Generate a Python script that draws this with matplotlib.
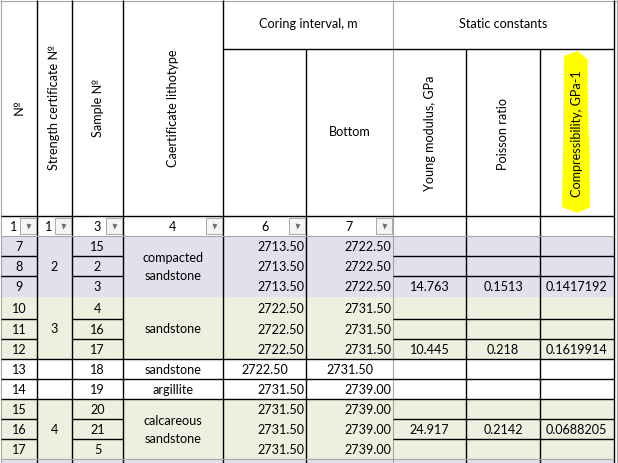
import matplotlib.pyplot as plt
from matplotlib.patches import Rectangle, Polygon

plt.rcParams['font.family'] = ['Lato', 'DejaVu Sans']

# table content
row_no = [7, 8, 9, 10, 11, 12, 13, 14, 15, 16, 17]
samples = [15, 2, 3, 4, 16, 17, 18, 19, 20, 21, 5]
cert_groups = [("2", 3), ("3", 3), ("", 1), ("", 1), ("4", 3)]
litho_groups = [("compacted\nsandstone", 3), ("sandstone", 3), ("sandstone", 1),
                ("argillite", 1), ("calcareous\nsandstone", 3)]
top = [2713.50, 2713.50, 2713.50, 2722.50, 2722.50, 2722.50, 2722.50,
       2731.50, 2731.50, 2731.50, 2731.50]
bottom = [2722.50, 2722.50, 2722.50, 2731.50, 2731.50, 2731.50, 2731.50,
          2739.00, 2739.00, 2739.00, 2739.00]
young = [None, None, 14.763, None, None, 10.445, None, None, None, 24.917, None]
poisson = [None, None, 0.1513, None, None, 0.218, None, None, None, 0.2142, None]
compress = [None, None, 0.1417192, None, None, 0.1619914, None, None, None, 0.0688205, None]

headers = ["№", "Strength certificate №", "Sample №", "Caertificate lithotype"]
sub_headers = ["", "Bottom", "Young modulus, GPa", "Poisson ratio", "Compressibility, GPa-1"]
group_headers = ["Coring interval, m", "Static constants"]
filter_labels = ["1", "1", "3", "4", "6", "7"]

# layout (pixels)
col_edges = [1, 37, 72, 123, 223, 306, 393, 466, 540, 613.5]
y_sub, y_filter, y_data = 49, 216, 236
row_heights = [20, 20, 20.7, 22.6, 20, 20, 20, 20, 20, 20, 20]
band_colors = ['#E4DFEC'] * 3 + ['#EBF1DE'] * 3 + ['white'] * 2 + ['#EBF1DE'] * 3
next_band = '#E4DFEC'

BLACK = 'black'
GRAY = '#A6A6A6'
FS = 9.1

fig = plt.figure(figsize=(6.18, 4.63), dpi=100)
ax = fig.add_axes([0, 0, 1, 1])
ax.set_xlim(0, 618)
ax.set_ylim(463, 0)
ax.axis('off')

row_tops = [y_data]
for h in row_heights:
    row_tops.append(row_tops[-1] + h)
y_end = row_tops[-1]
x0, x1 = col_edges[0], col_edges[-1]

# row fills
for i, c in enumerate(band_colors):
    ax.add_patch(Rectangle((x0, row_tops[i]), x1 - x0, row_heights[i], fc=c, ec='none', zorder=0))
ax.add_patch(Rectangle((x0, y_end), x1 - x0, 463 - y_end, fc=next_band, ec='none', zorder=0))

# highlighter stroke
ax.add_patch(Polygon([(564, 56), (577, 51), (587, 59), (590, 207), (577, 213), (562, 207)],
                     closed=True, fc='#FFFF00', ec='none', zorder=1))


def hline(y, xa, xb, color=BLACK, lw=1.0):
    ax.plot([xa, xb], [y, y], color=color, lw=lw, solid_capstyle='butt', zorder=3)


def vline(x, ya, yb, color=BLACK, lw=1.0):
    ax.plot([x, x], [ya, yb], color=color, lw=lw, solid_capstyle='butt', zorder=3)


def txt(x, y, s, ha='center', rot=0, **kw):
    ax.text(x, y, s, ha=ha, va='center', rotation=rot, fontsize=FS, color='black',
            zorder=4, rotation_mode='anchor', **kw)


# outer gridlines
hline(1, 0, 618, GRAY, 0.8)
vline(1, 0, 463, GRAY, 0.8)
vline(616.5, 0, 463, GRAY, 0.8)

# vertical borders
for k, x in enumerate(col_edges[1:], start=1):
    if k == 6:
        vline(x, 0, 463, GRAY, 0.8)
    elif k in (5, 7, 8):
        vline(x, y_sub, 463)
    else:
        vline(x, 0, 463)

# header lines
hline(y_sub, col_edges[4], x1)
hline(y_filter, x0, x1)
hline(y_data, x0, x1, GRAY, 0.8)
hline(y_end, x0, x1, GRAY, 0.8)

# group boundaries (row index where a group ends)
group_ends = []
acc = 0
for _, n in cert_groups:
    acc += n
    group_ends.append(acc)

# horizontal lines between data rows (none between row 9 and 10)
for i in range(1, len(row_heights)):
    if i == 3:
        continue
    y = row_tops[i]
    for k in range(9):
        xa, xb = col_edges[k], col_edges[k + 1]
        if k in (1, 3, 4, 5) and i not in group_ends:
            continue
        hline(y, xa, xb)

# header texts
hdr_mid = (0 + y_filter) / 2
for k, s in enumerate(headers):
    txt((col_edges[k] + col_edges[k + 1]) / 2, hdr_mid, s, rot=90)
sub_mid = (y_sub + y_filter) / 2
for j, s in enumerate(sub_headers):
    k = 4 + j
    cx = (col_edges[k] + col_edges[k + 1]) / 2
    if j == 1:
        txt(cx, sub_mid, s)
    elif s:
        txt(cx, sub_mid + 1, s, rot=90)
txt((col_edges[4] + col_edges[6]) / 2, y_sub / 2, group_headers[0])
txt((col_edges[6] + col_edges[9]) / 2, y_sub / 2, group_headers[1])

# filter row with dropdown buttons
fy = (y_filter + y_data) / 2
for k, s in enumerate(filter_labels):
    xa, xb = col_edges[k], col_edges[k + 1]
    bx = xb - 17
    cx = min((xa + xb) / 2, bx - 6)
    txt(cx, fy + 1, s)
    ax.add_patch(Rectangle((bx, y_filter + 2), 16, 16, fc='#F4F4F4', ec='#A9A9A9', lw=0.7, zorder=5))
    ax.plot(bx + 8, y_filter + 10, marker='v', ms=3.6, color='#6E6E6E', mec='none', zorder=6)

# data rows
for i in range(len(row_no)):
    cy = (row_tops[i] + row_tops[i + 1]) / 2 + 0.8
    txt((col_edges[0] + col_edges[1]) / 2, cy, str(row_no[i]))
    txt((col_edges[2] + col_edges[3]) / 2, cy, str(samples[i]))
    if i == 6:
        txt((col_edges[4] + col_edges[5]) / 2, cy, f"{top[i]:.2f}")
        txt((col_edges[5] + col_edges[6]) / 2, cy, f"{bottom[i]:.2f}")
    else:
        txt(col_edges[5] - 2, cy, f"{top[i]:.2f}", ha='right')
        txt(col_edges[6] - 2, cy, f"{bottom[i]:.2f}", ha='right')
    for k, vals in zip((6, 7, 8), (young, poisson, compress)):
        if vals[i] is not None:
            txt((col_edges[k] + col_edges[k + 1]) / 2, cy, str(vals[i]))

# merged cells
start = 0
for (cert, n), (litho, _) in zip(cert_groups, litho_groups):
    cy = (row_tops[start] + row_tops[start + n]) / 2 + 0.8
    if cert:
        txt((col_edges[1] + col_edges[2]) / 2, cy, cert)
    txt((col_edges[3] + col_edges[4]) / 2, cy, litho, linespacing=1.55)
    start += n

fig.savefig('out.png', dpi=100)
